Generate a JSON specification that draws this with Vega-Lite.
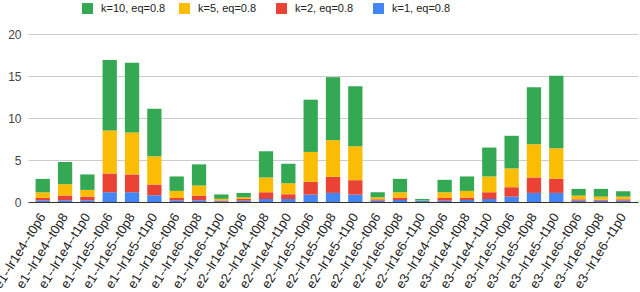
{
  "$schema": "https://vega.github.io/schema/vega-lite/v6.json",
  "width": 610,
  "height": 168,
  "autosize": {"type": "none"},
  "padding": {"left": 28, "top": 34, "right": 2, "bottom": 90},
  "background": "white",
  "config": {
    "view": {"stroke": null},
    "font": "Liberation Sans"
  },
  "data": {
    "values": [
      {"run": "e1--lr1e4--t0p6", "k": 1, "series": "k=1, eq=0.8", "value": 0.2},
      {"run": "e1--lr1e4--t0p6", "k": 2, "series": "k=2, eq=0.8", "value": 0.28},
      {"run": "e1--lr1e4--t0p6", "k": 5, "series": "k=5, eq=0.8", "value": 0.67},
      {"run": "e1--lr1e4--t0p6", "k": 10, "series": "k=10, eq=0.8", "value": 1.6},
      {"run": "e1--lr1e4--t0p8", "k": 1, "series": "k=1, eq=0.8", "value": 0.2},
      {"run": "e1--lr1e4--t0p8", "k": 2, "series": "k=2, eq=0.8", "value": 0.56},
      {"run": "e1--lr1e4--t0p8", "k": 5, "series": "k=5, eq=0.8", "value": 1.34},
      {"run": "e1--lr1e4--t0p8", "k": 10, "series": "k=10, eq=0.8", "value": 2.66},
      {"run": "e1--lr1e4--t1p0", "k": 1, "series": "k=1, eq=0.8", "value": 0.2},
      {"run": "e1--lr1e4--t1p0", "k": 2, "series": "k=2, eq=0.8", "value": 0.44},
      {"run": "e1--lr1e4--t1p0", "k": 5, "series": "k=5, eq=0.8", "value": 0.8},
      {"run": "e1--lr1e4--t1p0", "k": 10, "series": "k=10, eq=0.8", "value": 1.84},
      {"run": "e1--lr1e5--t0p6", "k": 1, "series": "k=1, eq=0.8", "value": 1.16},
      {"run": "e1--lr1e5--t0p6", "k": 2, "series": "k=2, eq=0.8", "value": 2.24},
      {"run": "e1--lr1e5--t0p6", "k": 5, "series": "k=5, eq=0.8", "value": 5.12},
      {"run": "e1--lr1e5--t0p6", "k": 10, "series": "k=10, eq=0.8", "value": 8.38},
      {"run": "e1--lr1e5--t0p8", "k": 1, "series": "k=1, eq=0.8", "value": 1.16},
      {"run": "e1--lr1e5--t0p8", "k": 2, "series": "k=2, eq=0.8", "value": 2.12},
      {"run": "e1--lr1e5--t0p8", "k": 5, "series": "k=5, eq=0.8", "value": 5.0},
      {"run": "e1--lr1e5--t0p8", "k": 10, "series": "k=10, eq=0.8", "value": 8.3},
      {"run": "e1--lr1e5--t1p0", "k": 1, "series": "k=1, eq=0.8", "value": 0.8},
      {"run": "e1--lr1e5--t1p0", "k": 2, "series": "k=2, eq=0.8", "value": 1.28},
      {"run": "e1--lr1e5--t1p0", "k": 5, "series": "k=5, eq=0.8", "value": 3.36},
      {"run": "e1--lr1e5--t1p0", "k": 10, "series": "k=10, eq=0.8", "value": 5.66},
      {"run": "e1--lr1e6--t0p6", "k": 1, "series": "k=1, eq=0.8", "value": 0.2},
      {"run": "e1--lr1e6--t0p6", "k": 2, "series": "k=2, eq=0.8", "value": 0.28},
      {"run": "e1--lr1e6--t0p6", "k": 5, "series": "k=5, eq=0.8", "value": 0.84},
      {"run": "e1--lr1e6--t0p6", "k": 10, "series": "k=10, eq=0.8", "value": 1.72},
      {"run": "e1--lr1e6--t0p8", "k": 1, "series": "k=1, eq=0.8", "value": 0.2},
      {"run": "e1--lr1e6--t0p8", "k": 2, "series": "k=2, eq=0.8", "value": 0.56},
      {"run": "e1--lr1e6--t0p8", "k": 5, "series": "k=5, eq=0.8", "value": 1.2},
      {"run": "e1--lr1e6--t0p8", "k": 10, "series": "k=10, eq=0.8", "value": 2.52},
      {"run": "e1--lr1e6--t1p0", "k": 1, "series": "k=1, eq=0.8", "value": 0.1},
      {"run": "e1--lr1e6--t1p0", "k": 2, "series": "k=2, eq=0.8", "value": 0.08},
      {"run": "e1--lr1e6--t1p0", "k": 5, "series": "k=5, eq=0.8", "value": 0.2},
      {"run": "e1--lr1e6--t1p0", "k": 10, "series": "k=10, eq=0.8", "value": 0.52},
      {"run": "e2--lr1e4--t0p6", "k": 1, "series": "k=1, eq=0.8", "value": 0.16},
      {"run": "e2--lr1e4--t0p6", "k": 2, "series": "k=2, eq=0.8", "value": 0.2},
      {"run": "e2--lr1e4--t0p6", "k": 5, "series": "k=5, eq=0.8", "value": 0.2},
      {"run": "e2--lr1e4--t0p6", "k": 10, "series": "k=10, eq=0.8", "value": 0.52},
      {"run": "e2--lr1e4--t0p8", "k": 1, "series": "k=1, eq=0.8", "value": 0.36},
      {"run": "e2--lr1e4--t0p8", "k": 2, "series": "k=2, eq=0.8", "value": 0.8},
      {"run": "e2--lr1e4--t0p8", "k": 5, "series": "k=5, eq=0.8", "value": 1.76},
      {"run": "e2--lr1e4--t0p8", "k": 10, "series": "k=10, eq=0.8", "value": 3.12},
      {"run": "e2--lr1e4--t1p0", "k": 1, "series": "k=1, eq=0.8", "value": 0.36},
      {"run": "e2--lr1e4--t1p0", "k": 2, "series": "k=2, eq=0.8", "value": 0.56},
      {"run": "e2--lr1e4--t1p0", "k": 5, "series": "k=5, eq=0.8", "value": 1.32},
      {"run": "e2--lr1e4--t1p0", "k": 10, "series": "k=10, eq=0.8", "value": 2.32},
      {"run": "e2--lr1e5--t0p6", "k": 1, "series": "k=1, eq=0.8", "value": 0.88},
      {"run": "e2--lr1e5--t0p6", "k": 2, "series": "k=2, eq=0.8", "value": 1.52},
      {"run": "e2--lr1e5--t0p6", "k": 5, "series": "k=5, eq=0.8", "value": 3.56},
      {"run": "e2--lr1e5--t0p6", "k": 10, "series": "k=10, eq=0.8", "value": 6.22},
      {"run": "e2--lr1e5--t0p8", "k": 1, "series": "k=1, eq=0.8", "value": 1.08},
      {"run": "e2--lr1e5--t0p8", "k": 2, "series": "k=2, eq=0.8", "value": 1.92},
      {"run": "e2--lr1e5--t0p8", "k": 5, "series": "k=5, eq=0.8", "value": 4.36},
      {"run": "e2--lr1e5--t0p8", "k": 10, "series": "k=10, eq=0.8", "value": 7.5},
      {"run": "e2--lr1e5--t1p0", "k": 1, "series": "k=1, eq=0.8", "value": 0.88},
      {"run": "e2--lr1e5--t1p0", "k": 2, "series": "k=2, eq=0.8", "value": 1.72},
      {"run": "e2--lr1e5--t1p0", "k": 5, "series": "k=5, eq=0.8", "value": 4.04},
      {"run": "e2--lr1e5--t1p0", "k": 10, "series": "k=10, eq=0.8", "value": 7.14},
      {"run": "e2--lr1e6--t0p6", "k": 1, "series": "k=1, eq=0.8", "value": 0.16},
      {"run": "e2--lr1e6--t0p6", "k": 2, "series": "k=2, eq=0.8", "value": 0.16},
      {"run": "e2--lr1e6--t0p6", "k": 5, "series": "k=5, eq=0.8", "value": 0.24},
      {"run": "e2--lr1e6--t0p6", "k": 10, "series": "k=10, eq=0.8", "value": 0.6},
      {"run": "e2--lr1e6--t0p8", "k": 1, "series": "k=1, eq=0.8", "value": 0.24},
      {"run": "e2--lr1e6--t0p8", "k": 2, "series": "k=2, eq=0.8", "value": 0.28},
      {"run": "e2--lr1e6--t0p8", "k": 5, "series": "k=5, eq=0.8", "value": 0.64},
      {"run": "e2--lr1e6--t0p8", "k": 10, "series": "k=10, eq=0.8", "value": 1.6},
      {"run": "e2--lr1e6--t1p0", "k": 1, "series": "k=1, eq=0.8", "value": 0.12},
      {"run": "e2--lr1e6--t1p0", "k": 2, "series": "k=2, eq=0.8", "value": 0.02},
      {"run": "e2--lr1e6--t1p0", "k": 5, "series": "k=5, eq=0.8", "value": 0.04},
      {"run": "e2--lr1e6--t1p0", "k": 10, "series": "k=10, eq=0.8", "value": 0.18},
      {"run": "e3--lr1e4--t0p6", "k": 1, "series": "k=1, eq=0.8", "value": 0.16},
      {"run": "e3--lr1e4--t0p6", "k": 2, "series": "k=2, eq=0.8", "value": 0.32},
      {"run": "e3--lr1e4--t0p6", "k": 5, "series": "k=5, eq=0.8", "value": 0.68},
      {"run": "e3--lr1e4--t0p6", "k": 10, "series": "k=10, eq=0.8", "value": 1.48},
      {"run": "e3--lr1e4--t0p8", "k": 1, "series": "k=1, eq=0.8", "value": 0.24},
      {"run": "e3--lr1e4--t0p8", "k": 2, "series": "k=2, eq=0.8", "value": 0.28},
      {"run": "e3--lr1e4--t0p8", "k": 5, "series": "k=5, eq=0.8", "value": 0.8},
      {"run": "e3--lr1e4--t0p8", "k": 10, "series": "k=10, eq=0.8", "value": 1.72},
      {"run": "e3--lr1e4--t1p0", "k": 1, "series": "k=1, eq=0.8", "value": 0.36},
      {"run": "e3--lr1e4--t1p0", "k": 2, "series": "k=2, eq=0.8", "value": 0.8},
      {"run": "e3--lr1e4--t1p0", "k": 5, "series": "k=5, eq=0.8", "value": 1.88},
      {"run": "e3--lr1e4--t1p0", "k": 10, "series": "k=10, eq=0.8", "value": 3.44},
      {"run": "e3--lr1e5--t0p6", "k": 1, "series": "k=1, eq=0.8", "value": 0.64},
      {"run": "e3--lr1e5--t0p6", "k": 2, "series": "k=2, eq=0.8", "value": 1.12},
      {"run": "e3--lr1e5--t0p6", "k": 5, "series": "k=5, eq=0.8", "value": 2.24},
      {"run": "e3--lr1e5--t0p6", "k": 10, "series": "k=10, eq=0.8", "value": 3.88},
      {"run": "e3--lr1e5--t0p8", "k": 1, "series": "k=1, eq=0.8", "value": 1.08},
      {"run": "e3--lr1e5--t0p8", "k": 2, "series": "k=2, eq=0.8", "value": 1.84},
      {"run": "e3--lr1e5--t0p8", "k": 5, "series": "k=5, eq=0.8", "value": 3.96},
      {"run": "e3--lr1e5--t0p8", "k": 10, "series": "k=10, eq=0.8", "value": 6.78},
      {"run": "e3--lr1e5--t1p0", "k": 1, "series": "k=1, eq=0.8", "value": 1.08},
      {"run": "e3--lr1e5--t1p0", "k": 2, "series": "k=2, eq=0.8", "value": 1.68},
      {"run": "e3--lr1e5--t1p0", "k": 5, "series": "k=5, eq=0.8", "value": 3.64},
      {"run": "e3--lr1e5--t1p0", "k": 10, "series": "k=10, eq=0.8", "value": 8.62},
      {"run": "e3--lr1e6--t0p6", "k": 1, "series": "k=1, eq=0.8", "value": 0.16},
      {"run": "e3--lr1e6--t0p6", "k": 2, "series": "k=2, eq=0.8", "value": 0.16},
      {"run": "e3--lr1e6--t0p6", "k": 5, "series": "k=5, eq=0.8", "value": 0.44},
      {"run": "e3--lr1e6--t0p6", "k": 10, "series": "k=10, eq=0.8", "value": 0.8},
      {"run": "e3--lr1e6--t0p8", "k": 1, "series": "k=1, eq=0.8", "value": 0.16},
      {"run": "e3--lr1e6--t0p8", "k": 2, "series": "k=2, eq=0.8", "value": 0.12},
      {"run": "e3--lr1e6--t0p8", "k": 5, "series": "k=5, eq=0.8", "value": 0.36},
      {"run": "e3--lr1e6--t0p8", "k": 10, "series": "k=10, eq=0.8", "value": 0.92},
      {"run": "e3--lr1e6--t1p0", "k": 1, "series": "k=1, eq=0.8", "value": 0.16},
      {"run": "e3--lr1e6--t1p0", "k": 2, "series": "k=2, eq=0.8", "value": 0.16},
      {"run": "e3--lr1e6--t1p0", "k": 5, "series": "k=5, eq=0.8", "value": 0.32},
      {"run": "e3--lr1e6--t1p0", "k": 10, "series": "k=10, eq=0.8", "value": 0.64}
    ]
  },
  "mark": {"type": "bar"},
  "encoding": {
    "x": {
      "field": "run",
      "type": "nominal",
      "sort": null,
      "scale": {"paddingInner": 0.36, "paddingOuter": 0.34},
      "axis": {
        "title": null,
        "labelAngle": -58,
        "labelAlign": "right",
        "labelBaseline": "middle",
        "labelFontSize": 13,
        "labelColor": "#222222",
        "labelPadding": 12,
        "ticks": false,
        "domainColor": "#333333",
        "domainWidth": 1,
        "labelOverlap": false,
        "labelLimit": 0
      }
    },
    "y": {
      "field": "value",
      "type": "quantitative",
      "stack": "zero",
      "scale": {"domain": [0, 20], "nice": false},
      "axis": {
        "title": null,
        "values": [0, 5, 10, 15, 20],
        "domain": false,
        "ticks": false,
        "gridColor": "#cccccc",
        "labelFontSize": 12,
        "labelColor": "#444444",
        "labelPadding": 7
      }
    },
    "color": {
      "field": "series",
      "type": "nominal",
      "scale": {
        "domain": ["k=10, eq=0.8", "k=5, eq=0.8", "k=2, eq=0.8", "k=1, eq=0.8"],
        "range": ["#34a853", "#fbbc04", "#ea4335", "#4285f4"]
      },
      "legend": {
        "title": null,
        "orient": "none",
        "legendX": 54,
        "legendY": -31,
        "direction": "horizontal",
        "columns": 4,
        "gridAlign": "all",
        "columnPadding": 13,
        "symbolType": "square",
        "symbolSize": 120,
        "symbolStrokeWidth": 0,
        "symbolOpacity": 1,
        "labelFontSize": 11,
        "labelColor": "#222222",
        "labelOffset": 8
      }
    },
    "order": {"field": "k", "type": "quantitative", "sort": "ascending"}
  }
}
